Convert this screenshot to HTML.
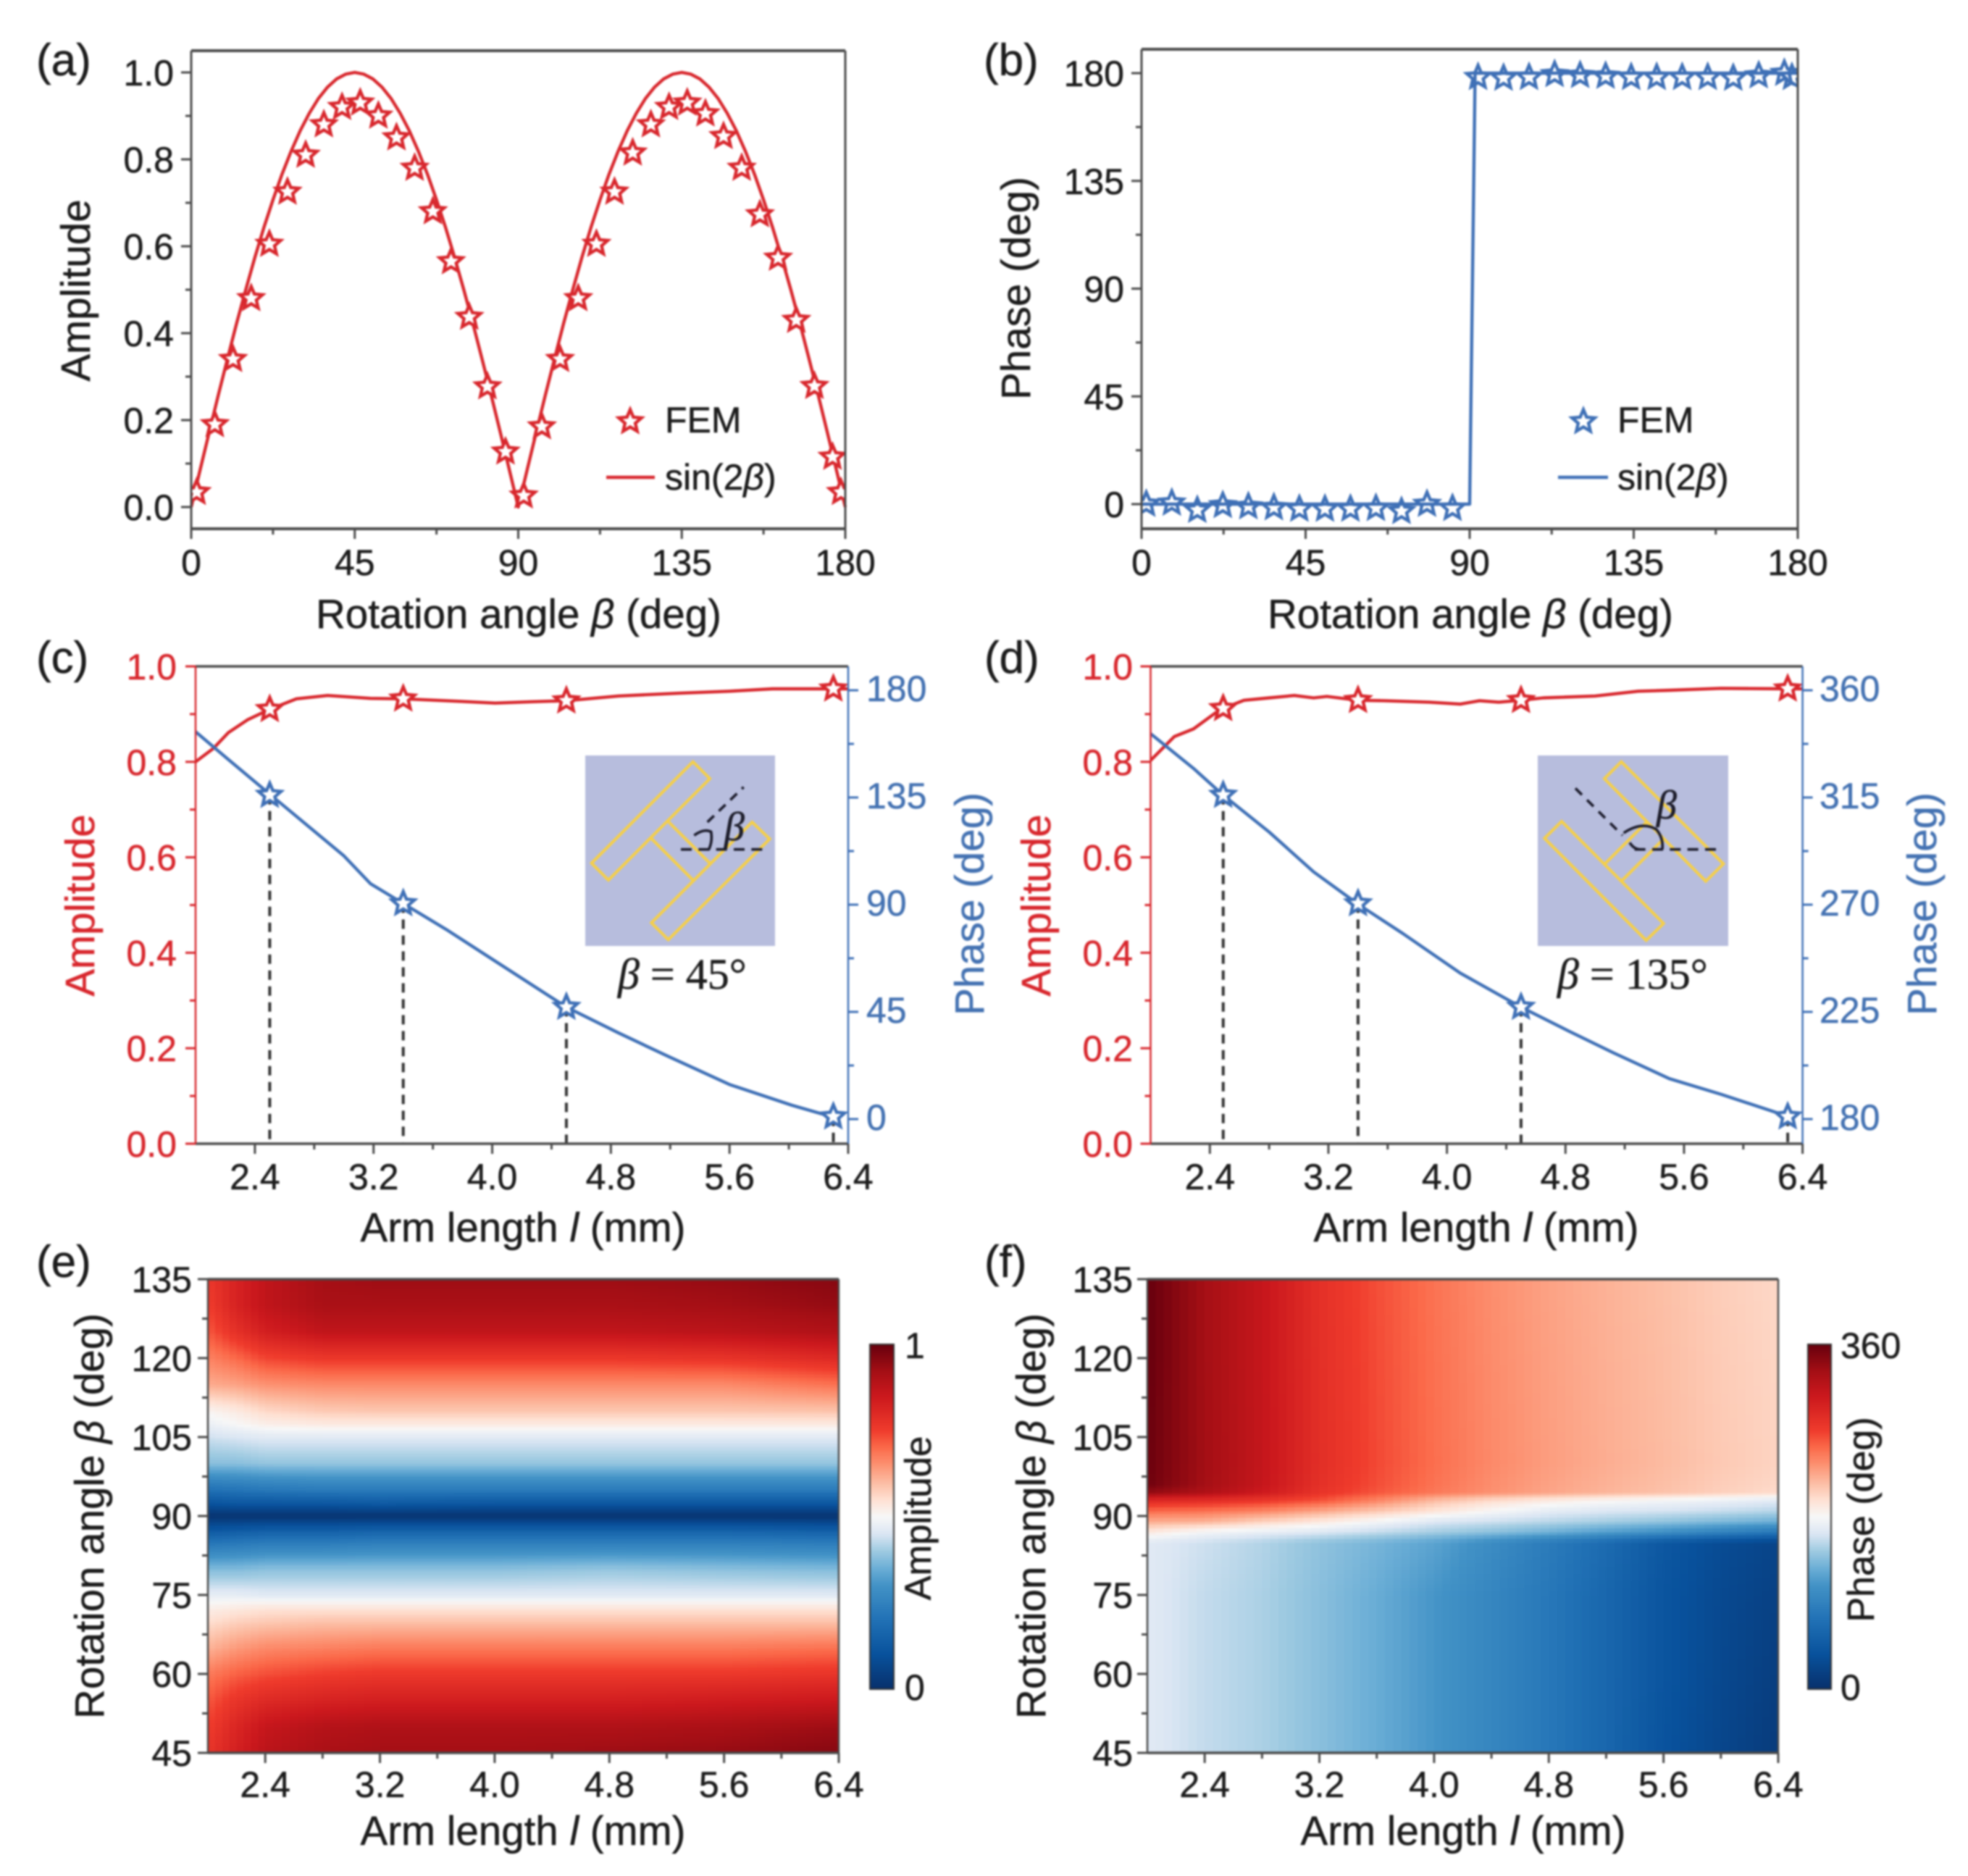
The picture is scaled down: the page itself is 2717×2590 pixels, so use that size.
<!DOCTYPE html>
<html lang="en">
<head>
<meta charset="utf-8">
<title>Amplitude and phase versus rotation angle and arm length</title>
<style>
html,body{margin:0;padding:0;background:#fff}
svg{display:block;filter:blur(1.4px)}
text{font-family:"Liberation Sans",sans-serif;fill:#1c1c1c;stroke:#1c1c1c;stroke-width:.5px}
.tick{font-size:50px}
.title{font-size:56.5px}
.panel{font-size:62px}
.legend{font-size:50px}
.serif{font-family:"Liberation Serif",serif;font-size:60px}
.red{fill:#d8272d;stroke:#d8272d}
.blue{fill:#4472b2;stroke:#4472b2}
</style>
</head>
<body>
<svg id="fig" xmlns="http://www.w3.org/2000/svg" width="2717" height="2590" viewBox="0 0 2717 2590">
  <defs>
    <clipPath id="clip-a"><rect x="264" y="70" width="903" height="660"/></clipPath>
    <clipPath id="clip-b"><rect x="1576" y="68" width="906" height="662"/></clipPath>
  </defs>
  <rect width="2717" height="2590" fill="#fff"/>
  <g id="marks"></g>

  <text class="panel" x="50" y="104">(a)</text>
  <text class="panel" x="1358" y="104">(b)</text>
  <text class="panel" x="50" y="929">(c)</text>
  <text class="panel" x="1359" y="929">(d)</text>
  <text class="panel" x="50" y="1763">(e)</text>
  <text class="panel" x="1359" y="1763">(f)</text>

  <text class="title" x="716" y="867" text-anchor="middle">Rotation angle <tspan font-style="italic">β</tspan> (deg)</text>
  <text class="title" x="2030" y="867" text-anchor="middle">Rotation angle <tspan font-style="italic">β</tspan> (deg)</text>
  <text class="title" transform="translate(124,401) rotate(-90)" text-anchor="middle">Amplitude</text>
  <text class="title" transform="translate(1422,398) rotate(-90)" text-anchor="middle">Phase (deg)</text>

  <text class="legend" x="918" y="597">FEM</text>
  <text class="legend" x="918" y="676">sin(2<tspan font-style="italic">β</tspan>)</text>
  <text class="legend" x="2233" y="597">FEM</text>
  <text class="legend" x="2233" y="676">sin(2<tspan font-style="italic">β</tspan>)</text>

  <text class="title" x="722" y="1714" text-anchor="middle">Arm length <tspan font-style="italic">l</tspan> (mm)</text>
  <text class="title" x="2038" y="1714" text-anchor="middle">Arm length <tspan font-style="italic">l</tspan> (mm)</text>
  <text class="title red" transform="translate(130,1250) rotate(-90)" text-anchor="middle">Amplitude</text>
  <text class="title blue" transform="translate(1358,1248) rotate(-90)" text-anchor="middle">Phase (deg)</text>
  <text class="title red" transform="translate(1450,1250) rotate(-90)" text-anchor="middle">Amplitude</text>
  <text class="title blue" transform="translate(2673,1248) rotate(-90)" text-anchor="middle">Phase (deg)</text>

  <g>
    <rect x="808" y="1043" width="262" height="263" fill="#b7bddd"/>
    <g transform="translate(780,1020) scale(0.33333)" fill="none">
      <g stroke="#f6cf47" stroke-width="12" stroke-linejoin="miter">
        <polygon points="530,95 600,165 180,585 110,515"/>
        <polygon points="775,345 848,415 428,832 358,762"/>
        <line x1="355" y1="410" x2="535" y2="590"/>
        <line x1="425" y1="340" x2="605" y2="520"/>
      </g>
      <g stroke="#1c1c2c" stroke-width="11">
        <line x1="480" y1="458" x2="845" y2="458" stroke-dasharray="45 28"/>
        <line x1="590" y1="345" x2="740" y2="200" stroke-dasharray="38 28"/>
        <path d="M535 400 Q575 370 605 385 Q612 425 595 460"/>
      </g>
    </g>
    <text class="serif" font-style="italic" x="1000" y="1160" style="font-size:56px;fill:#1c1c2c">β</text>
    <text class="serif" x="853" y="1365"><tspan font-style="italic">β</tspan> = 45°</text>
  </g>

  <g>
    <rect x="2123" y="1043" width="263" height="263" fill="#b7bddd"/>
    <g transform="translate(2100,1020) scale(0.33333)" fill="none">
      <g stroke="#f6cf47" stroke-width="12" stroke-linejoin="miter">
        <polygon points="415,95 838,518 765,590 345,165"/>
        <polygon points="168,342 590,765 518,835 97,412"/>
        <line x1="345" y1="520" x2="520" y2="345"/>
        <line x1="415" y1="590" x2="590" y2="415"/>
      </g>
      <g stroke="#1c1c2c" stroke-width="11">
        <line x1="470" y1="458" x2="835" y2="458" stroke-dasharray="45 28"/>
        <line x1="225" y1="205" x2="420" y2="400" stroke-dasharray="38 30"/>
        <path d="M425 390 Q500 340 560 375 Q590 410 585 458"/>
        <path d="M450 430 Q465 455 490 458"/>
      </g>
    </g>
    <text class="serif" font-style="italic" x="2287" y="1130" style="font-size:56px;fill:#1c1c2c">β</text>
    <text class="serif" x="2150" y="1365"><tspan font-style="italic">β</tspan> = 135°</text>
  </g>

  <text class="title" x="722" y="2547" text-anchor="middle">Arm length <tspan font-style="italic">l</tspan> (mm)</text>
  <text class="title" x="2020" y="2547" text-anchor="middle">Arm length <tspan font-style="italic">l</tspan> (mm)</text>
  <text class="title" transform="translate(143,2093) rotate(-90)" text-anchor="middle">Rotation angle <tspan font-style="italic">β</tspan> (deg)</text>
  <text class="title" transform="translate(1443,2093) rotate(-90)" text-anchor="middle">Rotation angle <tspan font-style="italic">β</tspan> (deg)</text>
  <text style="font-size:51px" transform="translate(1285,2096) rotate(-90)" text-anchor="middle">Amplitude</text>
  <text style="font-size:52px" transform="translate(2587,2098) rotate(-90)" text-anchor="middle">Phase (deg)</text>
  <text class="tick" x="1249" y="1875">1</text>
  <text class="tick" x="1249" y="2347">0</text>
  <text class="tick" x="2541" y="1875">360</text>
  <text class="tick" x="2541" y="2347">0</text>
</svg>

<script>
/* ---------- panel (a) data ---------- */
const aLineBeta = [0,2.5,5,7.5,10,12.5,15,17.5,20,22.5,25,27.5,30,32.5,35,37.5,40,42.5,45,47.5,50,52.5,55,57.5,60,62.5,65,67.5,70,72.5,75,77.5,80,82.5,85,87.5,90,92.5,95,97.5,100,102.5,105,107.5,110,112.5,115,117.5,120,122.5,125,127.5,130,132.5,135,137.5,140,142.5,145,147.5,150,152.5,155,157.5,160,162.5,165,167.5,170,172.5,175,177.5,180];
const aLineAmp = [0,.087,.174,.259,.342,.423,.5,.574,.643,.707,.766,.819,.866,.906,.94,.966,.985,.996,1,.996,.985,.966,.94,.906,.866,.819,.766,.707,.643,.574,.5,.423,.342,.259,.174,.087,0,.087,.174,.259,.342,.423,.5,.574,.643,.707,.766,.819,.866,.906,.94,.966,.985,.996,1,.996,.985,.966,.94,.906,.866,.819,.766,.707,.643,.574,.5,.423,.342,.259,.174,.087,0];
const aStarBeta = [1.5,6.5,11.5,16.5,21.5,26.5,31.5,36.5,41.5,46.5,51.5,56.5,61.5,66.5,71.5,76.5,81.5,86.5,91.5,96.5,101.5,106.5,111.5,116.5,121.5,126.5,131.5,136.5,141.5,146.5,151.5,156.5,161.5,166.5,171.5,176.5,178.8];
const aStarAmp = [.034,.19,.34,.48,.605,.725,.81,.88,.92,.93,.90,.85,.78,.68,.565,.437,.277,.127,.026,.185,.34,.48,.605,.725,.815,.88,.92,.93,.905,.853,.78,.673,.573,.43,.278,.115,.034];
const aYTicks = ["0.0","0.2","0.4","0.6","0.8","1.0"];
const bigXTicks = ["0","45","90","135","180"];

/* ---------- panel (b) data ---------- */
const bLineBeta = [0,90,91.5,180];
const bLinePhase = [0,0,180,180];
const bStarBeta = [1.3,8.3,15.3,22.3,29.3,36.3,43.3,50.3,57.3,64.3,71.3,78.3,85.3,92.3,99.3,106.3,113.3,120.3,127.3,134.3,141.3,148.3,155.3,162.3,169.3,176.3,178.4];
const bStarPhase = [0,.5,-2.5,-.5,-1,-1.4,-2,-2,-2,-1.7,-3,0,-1.7,178.3,178,178.3,179.5,179.1,178.8,178.3,178.3,178.3,178.3,178,179,180,178.3];
const bYTicks = ["0","45","90","135","180"];

/* ---------- panel (c) data ---------- */
const cAmpL = [2.0,2.12,2.22,2.35,2.5,2.68,2.89,3.18,3.4,3.69,4.02,4.27,4.5,4.85,5.27,5.6,5.89,6.3,6.4];
const cAmp = [.80,.828,.861,.888,.91,.932,.939,.933,.932,.928,.923,.926,.928,.938,.944,.948,.953,.953,.953];
const cPhaseL = [2.0,2.22,2.5,3.0,3.18,3.4,3.69,4.02,4.5,4.85,5.19,5.6,6.02,6.3];
const cPhase = [162.6,151,136.4,110.5,98.8,90.5,79.6,66.3,47,36.2,26.2,14.5,5.8,.8];
const cStarL = [2.5,3.4,4.5,6.3];
const cStarAmp = [.91,.932,.928,.953];
const cStarPhase = [136,90.5,47,1];
const cRightTicks = ["0","45","90","135","180"];

/* ---------- panel (d) data ---------- */
const dAmpL = [2.0,2.16,2.29,2.44,2.49,2.63,2.8,2.97,3.1,3.19,3.4,3.58,3.88,4.09,4.22,4.35,4.5,4.65,5.0,5.29,5.5,5.85,6.3,6.4];
const dAmp = [.803,.853,.869,.903,.912,.929,.934,.939,.934,.937,.929,.928,.925,.921,.928,.925,.929,.934,.938,.948,.95,.954,.953,.953];
const dPhaseL = [2.0,2.29,2.49,2.8,3.1,3.4,3.7,4.09,4.5,4.82,5.12,5.5,5.85,6.3];
const dPhase = [341.8,327.2,316,300.5,283.8,270.2,258,241.3,227,217,207.9,197,190.4,181.2];
const dStarL = [2.49,3.4,4.5,6.3];
const dStarAmp = [.912,.929,.929,.953];
const dStarPhase = [316,270.5,227,181];
const dRightTicks = ["180","225","270","315","360"];
const armTicks = ["2.4","3.2","4.0","4.8","5.6","6.4"];

/* ---------- panel (e) data: amplitude ---------- */
const eArm = [2.0,2.2,2.4,2.8,3.2,4.0,4.8,5.6,6.4];
const eBeta = [45,50,55,60,65,70,72.5,75,80,85,87.5,90,92.5,95,100,105,107.5,110,115,120,125,130,135];
const eAmp = [
[.77,.83,.88,.91,.92,.92,.93,.94,.96],
[.75,.81,.86,.89,.90,.90,.90,.91,.93],
[.72,.77,.80,.82,.83,.83,.83,.84,.85],
[.68,.71,.73,.75,.76,.76,.76,.76,.77],
[.61,.64,.66,.67,.68,.68,.68,.68,.69],
[.55,.57,.58,.59,.59,.59,.59,.59,.59],
[.52,.53,.54,.54,.54,.54,.54,.54,.54],
[.47,.47,.46,.46,.46,.46,.46,.46,.46],
[.37,.37,.38,.38,.38,.38,.39,.38,.37],
[.21,.22,.23,.23,.24,.24,.24,.24,.23],
[.11,.12,.13,.13,.14,.14,.14,.14,.13],
[.01,.01,.01,.01,.01,.01,.01,.01,.01],
[.11,.12,.12,.12,.13,.12,.12,.12,.12],
[.20,.21,.22,.23,.23,.23,.23,.23,.23],
[.38,.38,.39,.39,.39,.39,.39,.39,.39],
[.44,.45,.46,.46,.46,.46,.46,.46,.46],
[.48,.50,.52,.53,.53,.53,.53,.53,.53],
[.51,.53,.56,.58,.585,.585,.585,.585,.59],
[.62,.63,.65,.66,.66,.66,.66,.66,.69],
[.67,.70,.74,.76,.76,.76,.76,.77,.80],
[.72,.78,.83,.87,.87,.87,.87,.88,.90],
[.75,.82,.87,.91,.91,.91,.91,.92,.94],
[.76,.82,.87,.92,.93,.93,.93,.94,.96]
];

/* ---------- panel (f) data: phase in degrees ---------- */
const fArm = [2.0,2.4,2.8,3.2,3.6,4.0,4.4,4.8,5.2,5.6,6.0,6.4];
const fBeta = [45,60,75,85,87,89,91,93,94.5,96,100,120,135];
const fPhase = [
[166,155,148,137,125,110,95,79,60,38,24,12],
[166,155,148,137,125,110,95,79,60,40,26,15],
[166,155,148,137,125,110,95,79,60,40,27,18],
[166,158,150,139,130,119,101,83,65,43,30,22],
[191,177,170,164,155,146,138,128,116,105,92,79],
[223,220,205,192,178,164,158,152,146,140,133,126],
[252,248,240,225,210,195,180,168,163,160,156,151],
[288,284,275,262,240,216,200,190,182,177,172,166],
[340,325,305,278,260,246,235,226,219,213,206,200],
[356,331,310,281,263,248,236,227,220,214,207,202],
[358,332,311,283,265,250,238,229,222,216,209,204],
[360,331,310,282,264,249,237,228,221,215,208,203],
[360,331,310,281,263,248,236,227,220,214,207,202]
];
const heatYTicks = ["45","60","75","90","105","120","135"];

/* ---------- colour map positions and colours ---------- */
const cmapPos = [0,.1,.2,.3,.35,.4,.45,.5,.55,.6,.65,.7,.75,.85,.92,1];
const cmapCol = ["#08306b","#08519c","#2171b5","#4292c6","#6baed6","#9ecae1","#dbe6f3","#f7f7f7","#fee0d2","#fcbba1","#fc9272","#fb6a4a","#ef3b2c","#cb181d","#a50f15","#67000d"];

/* ---------- helpers ---------- */
const NS = "http://www.w3.org/2000/svg";
const root = document.getElementById("marks");
const RED = "#d8272d", BLUE = "#3f70b6", FRAME = "#4a4a4a";
function mk(tag, attrs, parent) {
  const n = document.createElementNS(NS, tag);
  for (const k in attrs) n.setAttribute(k, attrs[k]);
  (parent || root).appendChild(n);
  return n;
}
function lin(d0, d1, r0, r1) { return v => r0 + (v - d0) * (r1 - r0) / (d1 - d0); }
function hex(c) { return [1,3,5].map(i => parseInt(c.substr(i,2),16)); }
const cmapRgb = cmapCol.map(hex);
function cmap(v) {
  v = Math.max(0, Math.min(1, v));
  let i = 0;
  while (i < cmapPos.length - 2 && v > cmapPos[i + 1]) i++;
  const t = (v - cmapPos[i]) / (cmapPos[i + 1] - cmapPos[i]);
  const a = cmapRgb[i], b = cmapRgb[i + 1];
  return "rgb(" + a.map((x, k) => Math.round(x + (b[k] - x) * t)).join(",") + ")";
}
function starPath(cx, cy, R, r) {
  let d = "";
  for (let i = 0; i < 10; i++) {
    const rad = i % 2 ? r : R, a = -Math.PI / 2 + i * Math.PI / 5;
    d += (i ? "L" : "M") + (cx + rad * Math.cos(a)).toFixed(1) + " " + (cy + rad * Math.sin(a)).toFixed(1);
  }
  return d + "Z";
}
function drawStars(xs, ys, sx, sy, color, fill, name, clip) {
  const g = mk("g", clip ? {"clip-path": "url(#" + clip + ")"} : {});
  
  
  xs.forEach((x, i) => {
    const s = mk("path", {d: starPath(sx(x), sy(ys[i]), 16.5, 7.5), fill: fill, stroke: color, "stroke-width": 4.4, "stroke-linejoin": "miter"}, g);
    
    
  });
}
function drawLine(xs, ys, sx, sy, color, name) {
  const pts = xs.map((x, i) => sx(x).toFixed(1) + "," + sy(ys[i]).toFixed(1)).join(" ");
  const p = mk("polyline", {points: pts, fill: "none", stroke: color, "stroke-width": 4.4, "stroke-linejoin": "round"});
  
  
}
function drawSeg(x1, y1, x2, y2, color, w, name) {
  const l = mk("line", {x1: x1, y1: y1, x2: x2, y2: y2, stroke: color, "stroke-width": w});
  
  
  return l;
}
function drawLabel(x, y, str, anchor, cls, name) {
  const t = mk("text", {x: x, y: y, "text-anchor": anchor, class: cls});
  t.textContent = str;
  
  
}
/* x ticks along a bottom edge */
function xAxis(labels, minors, sx, y, baseline, name) {
  labels.forEach(lab => {
    drawSeg(sx(+lab), y, sx(+lab), y + 14, FRAME, 3, name + "-tick");
    drawLabel(sx(+lab), baseline, lab, "middle", "tick", name + "-tick-label");
  });
  minors.forEach(v => drawSeg(sx(v), y, sx(v), y + 8, FRAME, 3, name + "-minor-tick"));
}
/* y ticks on the left (dir -1) or right (dir 1) of an edge */
function yAxis(labels, minors, sy, x, dir, labelX, color, cls, name) {
  labels.forEach(lab => {
    drawSeg(x, sy(+lab), x + dir * 14, sy(+lab), color, 3, name + "-tick");
    drawLabel(labelX, sy(+lab) + (dir < 0 ? 18 : 15), lab, dir < 0 ? "end" : "start", cls, name + "-tick-label");
  });
  minors.forEach(v => drawSeg(x, sy(v), x + dir * 8, sy(v), color, 3, name + "-minor-tick"));
}
function frame(l, t, r, b, cl, ct, cr, cb, w, name) {
  drawSeg(l, t, r, t, ct, w + 1, name + "-top-edge");
  drawSeg(l, b, r, b, cb, w + 1, name + "-bottom-edge");
  drawSeg(l, t, l, b, cl, w, name + "-left-edge");
  drawSeg(r, t, r, b, cr, w, name + "-right-edge");
}
function heatmap(xs, ys, z, sx, sy, norm, name) {
  const g = mk("g", {"shape-rendering": "crispEdges"});
  
  
  for (let i = 0; i < ys.length - 1; i++) {
    for (let j = 0; j < xs.length - 1; j++) {
      const x0 = sx(xs[j]), x1 = sx(xs[j + 1]), y0 = sy(ys[i + 1]), y1 = sy(ys[i]);
      const nx = Math.max(1, Math.ceil((x1 - x0) / 12)), ny = Math.max(1, Math.ceil((y1 - y0) / 5));
      for (let a = 0; a < nx; a++) {
        for (let b = 0; b < ny; b++) {
          const u = (a + .5) / nx, w = (b + .5) / ny;
          const top = z[i + 1][j] * (1 - u) + z[i + 1][j + 1] * u;
          const bot = z[i][j] * (1 - u) + z[i][j + 1] * u;
          const val = top * (1 - w) + bot * w;
          const c = mk("rect", {
            x: (x0 + a * (x1 - x0) / nx).toFixed(1),
            y: (y0 + b * (y1 - y0) / ny).toFixed(1),
            width: ((x1 - x0) / nx + .8).toFixed(1),
            height: ((y1 - y0) / ny + .8).toFixed(1),
            fill: cmap(norm(val))
          }, g);
          
          
        }
      }
    }
  }
}
function colorbar(x0, x1, y0, y1, name) {
  const N = 160, h = (y1 - y0) / N;
  for (let i = 0; i < N; i++) {
    const s = mk("rect", {x: x0, y: (y0 + i * h).toFixed(1), width: x1 - x0, height: (h + .8).toFixed(1), fill: cmap(1 - (i + .5) / N)});
    
    
  }
  const f = mk("rect", {x: x0, y: y0, width: x1 - x0, height: y1 - y0, fill: "none", stroke: "#333", "stroke-width": 2});
  
  
}

/* ---------- panel (a) ---------- */
(function () {
  const sx = lin(0, 180, 264, 1167), sy = lin(0, 1, 700, 100);
  drawLine(aLineBeta, aLineAmp, sx, sy, RED, "a-sin-line");
  drawStars(aStarBeta, aStarAmp, sx, sy, RED, "#fff", "a-fem-star", "clip-a");
  frame(264, 70, 1167, 730, FRAME, FRAME, FRAME, FRAME, 3, "a-frame");
  xAxis(bigXTicks, [22.5, 67.5, 112.5, 157.5], sx, 730, 794, "a-x");
  yAxis(aYTicks, [.1, .3, .5, .7, .9], sy, 264, -1, 240, FRAME, "tick", "a-y");
  drawStars([0], [0], v => 870, v => 582, RED, "#fff", "a-legend-star");
  drawSeg(837, 659, 904, 659, RED, 4.4, "a-legend-line");
})();

/* ---------- panel (b) ---------- */
(function () {
  const sx = lin(0, 180, 1576, 2482), sy = lin(0, 180, 696, 101);
  drawStars(bStarBeta, bStarPhase, sx, sy, BLUE, "none", "b-fem-star", "clip-b");
  drawLine(bLineBeta, bLinePhase, sx, sy, BLUE, "b-sin-line");
  frame(1576, 68, 2482, 730, FRAME, FRAME, FRAME, FRAME, 3, "b-frame");
  xAxis(bigXTicks, [22.5, 67.5, 112.5, 157.5], sx, 730, 794, "b-x");
  yAxis(bYTicks, [22.5, 67.5, 112.5, 157.5], sy, 1576, -1, 1552, FRAME, "tick", "b-y");
  drawStars([0], [0], v => 2186, v => 582, BLUE, "#fff", "b-legend-star");
  drawSeg(2151, 659, 2220, 659, BLUE, 4.4, "b-legend-line");
})();

/* ---------- panels (c) and (d) ---------- */
function dualPanel(p, left, right, ampL, amp, phL, ph, starL, starA, starP, rTicks, rMin, leftLabelX, rightLabelX) {
  const sx = lin(2, 6.4, left, right);
  const sa = lin(0, 1, 1579, 920);
  const sp = lin(rMin, rMin + 180, 1545, 953);
  starL.forEach((l, i) => {
    const d = drawSeg(sx(l), sp(starP[i]), sx(l), 1579, "#333", 4, p + "-guide-line");
    d.setAttribute("stroke-dasharray", "13 9");
  });
  drawLine(ampL, amp, sx, sa, RED, p + "-amplitude-line");
  drawLine(phL, ph, sx, sp, BLUE, p + "-phase-line");
  drawStars(starL, starA, sx, sa, RED, "#fff", p + "-amplitude-star");
  drawStars(starL, starP, sx, sp, BLUE, "#fff", p + "-phase-star");
  frame(left, 920, right, 1579, RED, FRAME, BLUE, FRAME, 2.5, p + "-frame");
  xAxis(armTicks, [2.8, 3.6, 4.4, 5.2, 6.0], sx, 1579, 1642, p + "-x");
  yAxis(["0.0","0.2","0.4","0.6","0.8","1.0"], [.1, .3, .5, .7, .9], sa, left, -1, leftLabelX, RED, "tick red", p + "-left");
  yAxis(rTicks, [rMin + 22.5, rMin + 67.5, rMin + 112.5, rMin + 157.5], sp, right, 1, rightLabelX, BLUE, "tick blue", p + "-right");
}
dualPanel("c", 270, 1171, cAmpL, cAmp, cPhaseL, cPhase, cStarL, cStarAmp, cStarPhase, cRightTicks, 0, 244, 1196);
dualPanel("d", 1588.5, 2488.6, dAmpL, dAmp, dPhaseL, dPhase, dStarL, dStarAmp, dStarPhase, dRightTicks, 180, 1564, 2512);

/* ---------- panels (e) and (f) ---------- */
function heatPanel(p, left, right, xs, ys, z, norm, labelX) {
  const sx = lin(2, 6.4, left, right), sy = lin(45, 135, 2420, 1766);
  heatmap(xs, ys, z, sx, sy, norm, p + "-heatmap");
  frame(left, 1766, right, 2420, FRAME, FRAME, FRAME, FRAME, 2.5, p + "-frame");
  xAxis(armTicks, [2.8, 3.6, 4.4, 5.2, 6.0], sx, 2420, 2481, p + "-x");
  yAxis(heatYTicks, [52.5, 67.5, 82.5, 97.5, 112.5, 127.5], sy, left, -1, labelX, FRAME, "tick", p + "-y");
}
heatPanel("e", 287, 1158, eArm, eBeta, eAmp, v => v, 265);
heatPanel("f", 1584, 2455, fArm, fBeta, fPhase, v => v / 360, 1564);
colorbar(1201, 1234, 1856, 2332, "e-colorbar");
colorbar(2496, 2528, 1856, 2332, "f-colorbar");
</script>
</body>
</html>
